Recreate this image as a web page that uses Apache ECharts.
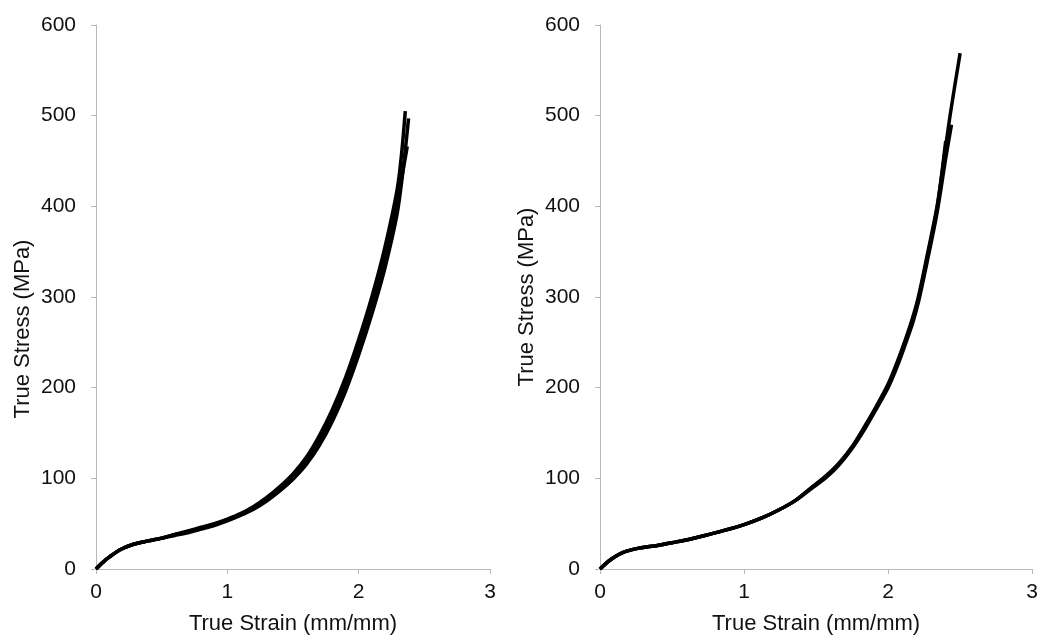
<!DOCTYPE html>
<html>
<head>
<meta charset="utf-8">
<script src="https://cdn.jsdelivr.net/npm/echarts@6/dist/echarts.min.js"></script>
<style>
  html, body { margin: 0; padding: 0; background: #fff; }
  #chart { width: 1041px; height: 640px; }
</style>
</head>
<body>
<div id="chart"></div>
<script>
// axis ticks
let strainTicks = [0, 1, 2, 3];
let stressTicks = [0, 100, 200, 300, 400, 500, 600];

// left panel, three specimens
let leftStrainA = [0, 0.05, 0.1, 0.18, 0.28, 0.4, 0.5, 0.6, 0.7, 0.8, 0.9, 1.0, 1.1, 1.2, 1.3, 1.4, 1.5, 1.6, 1.7, 1.8, 1.9, 2.0, 2.1, 2.2, 2.3, 2.355];
let leftStressA = [0, 7, 13, 21, 27, 31, 34, 38, 42, 46, 50, 55, 61, 69, 79, 91, 105, 123, 147, 176, 211, 253, 300, 355, 425, 505];
let leftStrainB = [0, 0.05, 0.1, 0.18, 0.28, 0.4, 0.5, 0.6, 0.7, 0.8, 0.9, 1.0, 1.1, 1.2, 1.3, 1.4, 1.5, 1.6, 1.7, 1.8, 1.9, 2.0, 2.1, 2.2, 2.3, 2.38];
let leftStressB = [0, 7, 13, 21, 27, 31, 34, 37, 40, 44, 48, 53, 59, 66, 75, 86, 99, 115, 136, 163, 196, 236, 281, 332, 398, 497];
let leftStrainC = [0, 0.05, 0.1, 0.18, 0.28, 0.4, 0.5, 0.6, 0.7, 0.8, 0.9, 1.0, 1.1, 1.2, 1.3, 1.4, 1.5, 1.6, 1.7, 1.8, 1.9, 2.0, 2.1, 2.2, 2.3, 2.37];
let leftStressC = [0, 7, 13, 21, 27, 31, 34, 38, 41, 45, 49, 54, 60, 67, 77, 89, 102, 119, 141, 169, 203, 244, 290, 343, 410, 466];

// right panel, three specimens
let rightStrainA = [0, 0.04, 0.08, 0.13, 0.18, 0.27, 0.4, 0.5, 0.6, 0.73, 0.85, 1.0, 1.12, 1.24, 1.36, 1.47, 1.57, 1.66, 1.75, 1.84, 1.92, 2.0, 2.06, 2.12, 2.17, 2.21, 2.27, 2.34, 2.38, 2.43, 2.5];
let rightStressA = [0, 6, 11, 16, 19.5, 23, 26, 29, 32, 37, 42, 49, 56, 65, 76, 90, 103, 117, 135, 158, 180, 204, 227, 253, 277, 300, 345, 400, 443, 500, 569];
let rightStrainB = [0, 0.04, 0.08, 0.13, 0.18, 0.27, 0.4, 0.5, 0.6, 0.73, 0.85, 1.0, 1.12, 1.24, 1.36, 1.47, 1.57, 1.66, 1.75, 1.84, 1.92, 2.0, 2.06, 2.12, 2.17, 2.21, 2.27, 2.34, 2.4, 2.44];
let rightStressB = [0, 6, 11, 16, 19.5, 23, 26, 29, 32, 37, 42, 49, 56, 65, 76, 89, 101, 115, 133, 155, 177, 200, 222, 248, 271, 294, 338, 393, 453, 490];
let rightStrainC = [0, 0.04, 0.08, 0.13, 0.18, 0.27, 0.4, 0.5, 0.6, 0.73, 0.85, 1.0, 1.12, 1.24, 1.36, 1.47, 1.57, 1.66, 1.75, 1.84, 1.92, 2.0, 2.06, 2.12, 2.17, 2.21, 2.27, 2.34, 2.4];
let rightStressC = [0, 6, 11, 16, 19.5, 23, 26, 29, 32, 37, 42, 49, 56, 65, 76, 90, 102, 116, 134, 157, 179, 202, 225, 251, 274, 297, 342, 398, 472];

function zip(xs, ys) {
    return xs.map((x, i) => [x, ys[i]]);
}

let font = 'Liberation Sans, Arial, sans-serif';

function xAxisOf(idx) {
    return {
        gridIndex: idx,
        type: 'value',
        min: strainTicks[0],
        max: strainTicks[strainTicks.length - 1],
        interval: 1,
        name: 'True Strain (mm/mm)',
        nameLocation: 'middle',
        nameGap: 44,
        nameTextStyle: { fontFamily: font, fontSize: 22, color: '#111' },
        axisLine: { lineStyle: { color: '#b8b8b8', width: 1 } },
        axisTick: { show: true, length: 5, lineStyle: { color: '#b8b8b8' } },
        axisLabel: { fontFamily: font, fontSize: 21, color: '#111', margin: 13 },
        splitLine: { show: false }
    };
}

function yAxisOf(idx, shift) {
    return {
        gridIndex: idx,
        type: 'value',
        min: stressTicks[0],
        max: stressTicks[stressTicks.length - 1],
        interval: 100,
        name: 'True Stress (MPa)',
        nameLocation: 'middle',
        nameGap: 62,
        nameTextStyle: { fontFamily: font, fontSize: 22, color: '#111', padding: [0, shift, 0, 0] },
        axisLine: { show: true, lineStyle: { color: '#b8b8b8', width: 1 } },
        axisTick: { show: true, length: 5, lineStyle: { color: '#b8b8b8' } },
        axisLabel: { fontFamily: font, fontSize: 21, color: '#111', margin: 20 },
        splitLine: { show: false }
    };
}

function curve(idx, xs, ys, w) {
    return {
        type: 'line',
        xAxisIndex: idx,
        yAxisIndex: idx,
        data: zip(xs, ys),
        smooth: 0.3,
        showSymbol: false,
        lineStyle: { color: '#000', width: w }
    };
}

let chart = echarts.init(document.getElementById('chart'));
chart.setOption({
    backgroundColor: '#fff',
    animation: false,
    grid: [
        { left: 96, top: 25, width: 394, height: 548 },
        { left: 600, top: 25, width: 434, height: 548 }
    ],
    xAxis: [xAxisOf(0), xAxisOf(1)],
    yAxis: [yAxisOf(0, 64), yAxisOf(1, 0)],
    series: [
        curve(0, leftStrainA, leftStressA, 3.5),
        curve(0, leftStrainB, leftStressB, 3.5),
        curve(0, leftStrainC, leftStressC, 3.5),
        curve(1, rightStrainA, rightStressA, 3.5),
        curve(1, rightStrainB, rightStressB, 3.5),
        curve(1, rightStrainC, rightStressC, 3.5)
    ]
});
</script>
</body>
</html>
